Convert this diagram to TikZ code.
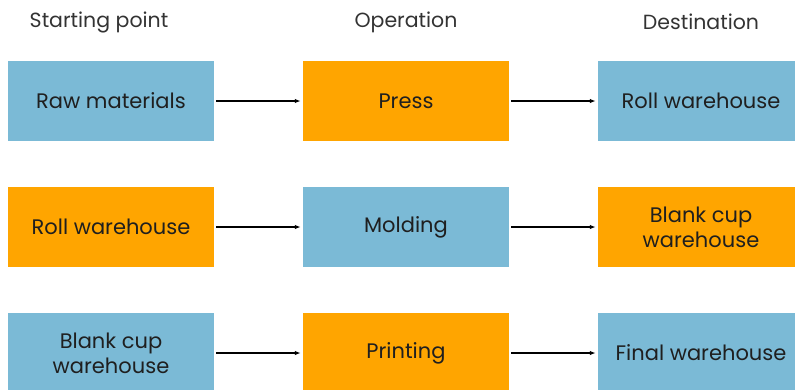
\documentclass[tikz,border=0pt]{standalone}
\usepackage{fontspec}
\setmainfont{Poppins}
\usetikzlibrary{positioning,arrows.meta}

\definecolor{boxblue}{HTML}{7BBAD6}
\definecolor{boxorange}{HTML}{FFA500}

\tikzset{
  stepbox/.style={minimum width=206pt, minimum height=80pt, inner sep=0pt,
    align=center, text=black!88, font=\fontsize{21}{25}\selectfont},
  bluebox/.style={stepbox, fill=boxblue},
  orangebox/.style={stepbox, fill=boxorange},
  flow/.style={-{Latex[length=6pt,width=4.5pt]}, line width=1.4pt,
    shorten <=2pt, shorten >=2pt},
  header/.style={text=black!80, font=\fontsize{20.5}{24}\selectfont}
}

\begin{document}
\begin{tikzpicture}[x=1pt, y=-1pt]
\def\xa{111};
\def\dx{295};
\def\ya{101};
\def\dy{126};

\useasboundingbox (0,0) rectangle (795,389);
\clip (0,0) rectangle (795,389);

% column titles
\node[header] (hstart) at (99, 22) {Starting point};
\node[header] (hop) at (\xa + \dx, 22) {Operation};
\node[header] (hdest) at (\xa + 2*\dx, 22) {Destination};

% row 1
\node[bluebox] (raw) at (\xa, \ya) {Raw materials};
\node[orangebox] (press) at (\xa + \dx, \ya) {Press};
\node[bluebox] (rollA) at (\xa + 2*\dx, \ya) {Roll warehouse};

% row 2
\node[orangebox] (rollB) at (\xa, \ya + \dy) {Roll warehouse};
\node[bluebox] (molding) at (\xa + \dx, \ya + \dy) {Molding};
\node[orangebox] (blankA) at (\xa + 2*\dx, \ya + \dy) {Blank cup\\warehouse};

% row 3
\node[bluebox] (blankB) at (\xa, \ya + 2*\dy) {Blank cup\\warehouse};
\node[orangebox] (printing) at (\xa + \dx, \ya + 2*\dy) {Printing};
\node[bluebox] (final) at (\xa + 2*\dx, \ya + 2*\dy) {Final warehouse};

% arrows
\draw[flow] (raw) -- (press);
\draw[flow] (press) -- (rollA);
\draw[flow] (rollB) -- (molding);
\draw[flow] (molding) -- (blankA);
\draw[flow] (blankB) -- (printing);
\draw[flow] (printing) -- (final);

\end{tikzpicture}
\end{document}
